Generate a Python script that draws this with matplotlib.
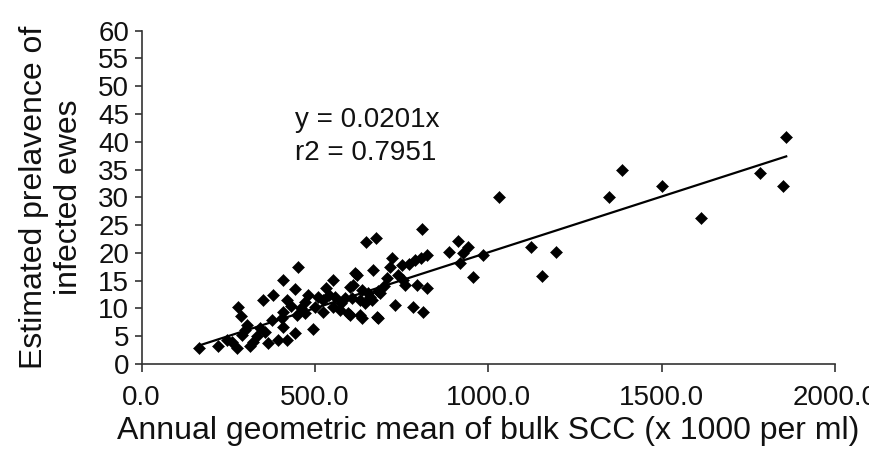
import numpy as np
import matplotlib
matplotlib.use("Agg")
import matplotlib.pyplot as plt

plt.rcParams['font.family'] = ['Liberation Sans', 'DejaVu Sans']

# bulk SCC (x 1000 per ml) and estimated prevalence (%)
scc = [165, 221, 245, 260, 276, 279, 286, 290, 298, 305, 312, 320, 332, 340,
       351, 355, 365, 375, 380, 394,
       404, 409, 409, 409, 418, 418, 430, 442, 442, 447, 452, 460, 471, 471,
       480, 495, 500, 510, 524, 524, 533, 540, 553, 553, 558, 572, 575, 587,
       596, 601, 601, 606, 610, 615,
       620, 629, 630, 635, 635, 644, 646, 654, 659, 663, 668, 675, 678, 683,
       683, 688, 700, 707, 716, 721, 731, 740, 750, 755, 760, 770, 784, 789,
       793, 805, 808, 812, 822, 822,
       885, 911, 918, 928, 942, 956, 985,
       1031, 1123, 1154, 1195, 1348, 1385, 1502, 1614, 1784, 1851, 1859]
prevalence = [2.8, 3.3, 4.3, 3.9, 2.8, 10.3, 8.6, 5.2, 6.1, 7.0, 3.2, 4.0, 5.0, 6.5,
              11.5, 5.8, 3.7, 8.0, 12.4, 4.4,
              8.2, 15.2, 9.4, 6.7, 11.5, 4.3, 10.5, 13.5, 5.5, 8.8, 17.5, 10.0, 11.2, 9.1,
              12.5, 6.3, 10.3, 12.0, 11.5, 9.4, 13.6, 12.5, 15.1, 10.3, 12.1, 9.7, 11.0, 11.8,
              9.1, 13.9, 8.8, 11.8, 14.2, 16.3,
              16.0, 11.5, 8.8, 13.3, 8.2, 10.9, 22.0, 12.7, 12.1, 11.5, 16.9, 22.6, 8.5, 13.2,
              8.2, 12.7, 14.0, 15.4, 17.5, 19.0, 10.6, 16.0, 17.8, 15.1, 14.2, 18.0, 10.3, 18.7,
              14.2, 19.0, 24.3, 9.4, 19.6, 13.6,
              20.1, 22.2, 18.1, 19.9, 21.1, 15.6, 19.7,
              30.1, 21.1, 15.9, 20.1, 30.0, 35.0, 32.1, 26.3, 34.4, 32.1, 40.8]

slope = 0.0201
r2 = 0.7951

x_ticks = [0, 500, 1000, 1500, 2000]
y_ticks = list(range(0, 61, 5))

fig = plt.figure(figsize=(8.69, 4.57), dpi=100)
ax = fig.add_axes([0.163, 0.2035, 0.798, 0.7295])

x = np.array(scc)
y = np.array(prevalence)
ax.plot(x, y, linestyle='none', marker='D', ms=6.3, color='black',
        markeredgewidth=0.4, zorder=3)

fit_x = np.array([x.min(), x.max()])
ax.plot(fit_x, slope * fit_x, color='black', lw=1.6, zorder=2)

ax.text(442, 46.2, f"y = {slope}x", fontsize=20, va='top', color='#111111')
ax.text(442, 40.4, f"r2 = {r2}", fontsize=20, va='top', color='#111111')

ax.set_xlim(0, 2000)
ax.set_ylim(0, 60)
ax.set_xticks(x_ticks)
ax.set_xticklabels([f"{t:.1f}" for t in x_ticks])
ax.set_yticks(y_ticks)

for side in ['top', 'right']:
    ax.spines[side].set_visible(False)
for side in ['left', 'bottom']:
    ax.spines[side].set_color('#333333')
    ax.spines[side].set_linewidth(1.2)

ax.tick_params(axis='y', direction='out', length=5, width=1.2, color='#333333',
               labelsize=20, pad=4, labelcolor='#111111')
ax.tick_params(axis='x', direction='out', length=6, width=1.2, color='#333333',
               labelsize=20, pad=9, labelcolor='#111111')

ax.set_xlabel("Annual geometric mean of bulk SCC (x 1000 per ml)", fontsize=23,
              color='#111111', labelpad=4)
ax.set_ylabel("Estimated prelavence of\ninfected ewes", fontsize=23,
              color='#111111', labelpad=10, linespacing=1.25)

fig.savefig("out.png", dpi=100)
